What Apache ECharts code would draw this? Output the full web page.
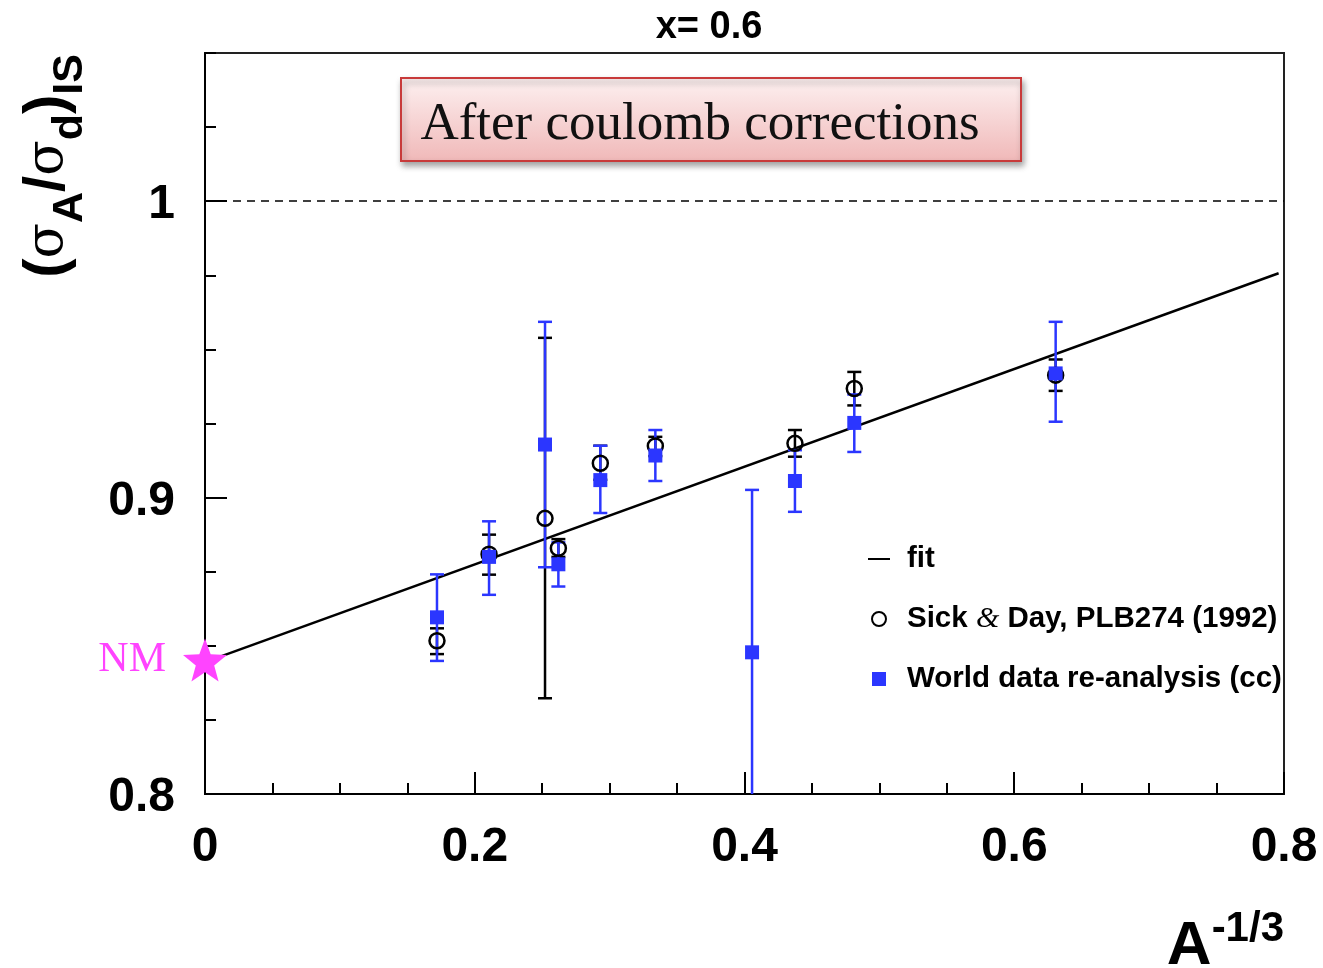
<!DOCTYPE html>
<html>
<head>
<meta charset="utf-8">
<script src="https://cdn.jsdelivr.net/npm/echarts@6/dist/echarts.min.js"></script>
<style>html,body{margin:0;padding:0;background:#fff;}#c{width:1323px;height:968px;}</style>
</head>
<body>
<div id="c"></div>
<script>
// ---- data ----
const xTickLabels = ['0', '0.2', '0.4', '0.6', '0.8'];
const yTickLabels = ['0.8', '0.9', '1'];

// World data re-analysis (cc) : A^-1/3, ratio, lower, upper
const worldX    = [0.172, 0.2106, 0.2521, 0.262, 0.2931, 0.3339, 0.4056, 0.4374, 0.4814, 0.6307];
const worldY    = [0.8596, 0.8800, 0.9179, 0.8775, 0.9059, 0.9142, 0.8478, 0.9056, 0.9252, 0.9419];
const worldLow  = [0.8449, 0.8672, 0.8765, 0.8700, 0.8948, 0.9056, 0.7900, 0.8952, 0.9154, 0.9256];
const worldHigh = [0.8741, 0.8920, 0.9593, 0.8849, 0.9175, 0.9228, 0.9026, 0.9160, 0.9348, 0.9593];

// Sick & Day, PLB274 (1992)
const sickX    = [0.172, 0.2106, 0.2521, 0.262, 0.2931, 0.3339, 0.4374, 0.4814, 0.6307];
const sickY    = [0.8517, 0.8809, 0.8930, 0.8829, 0.9116, 0.9174, 0.9183, 0.9368, 0.9413];
const sickLow  = [0.8472, 0.8740, 0.8323, 0.8800, 0.9060, 0.9140, 0.9138, 0.9311, 0.9360];
const sickHigh = [0.8559, 0.8875, 0.9539, 0.8860, 0.9175, 0.9205, 0.9228, 0.9424, 0.9466];

// linear fit
const fitX = [0, 0.796];
const fitY = [0.8445, 0.9757];

// nuclear matter extrapolation
const nmX = [0];
const nmY = [0.8445];

const refLine = 1.0;

// ---- chart ----
const BLUE = '#2b36ff';
const MAGENTA = '#ff44ff';
const chart = echarts.init(document.getElementById('c'));

function errSeries(name, xs, lo, hi, color) {
  return {
    name: name + '_err', type: 'custom', xAxisIndex: 0, yAxisIndex: 0, clip: true,
    data: xs.map((x, i) => [x, lo[i], hi[i]]),
    renderItem: function (params, api) {
      const x = api.value(0);
      const p1 = api.coord([x, api.value(2)]);
      const p2 = api.coord([x, api.value(1)]);
      const w = 7;
      const st = { stroke: color, lineWidth: 2.5 };
      return {
        type: 'group',
        children: [
          { type: 'line', shape: { x1: p1[0], y1: p1[1], x2: p2[0], y2: p2[1] }, style: st },
          { type: 'line', shape: { x1: p1[0] - w, y1: p1[1], x2: p1[0] + w, y2: p1[1] }, style: st },
          { type: 'line', shape: { x1: p2[0] - w, y1: p2[1], x2: p2[0] + w, y2: p2[1] }, style: st }
        ]
      };
    },
    z: 3
  };
}

const starPath = 'path://M50,0 L62.3,33 L97.6,34.5 L69.9,56.4 L79.4,90.5 L50,71 L20.6,90.5 L30.1,56.4 L2.4,34.5 L37.7,33 Z';
const gridBox = { left: 205, right: 39, top: 53, bottom: 174 };

const option = {
  backgroundColor: '#ffffff',
  animation: false,
  title: {
    text: 'x= 0.6', left: 704, top: 4, textAlign: 'center',
    textStyle: { fontFamily: 'Liberation Sans', fontWeight: 'bold', fontSize: 38, color: '#000' }
  },
  grid: [
    Object.assign({ show: true, borderColor: '#222', borderWidth: 2, backgroundColor: 'transparent' }, gridBox),
    Object.assign({ show: false }, gridBox)
  ],
  legend: {
    orient: 'vertical', left: 868, top: 544, itemWidth: 22, itemHeight: 14, itemGap: 30,
    padding: 0,
    data: [
      { name: 'fit', icon: 'path://M0,0 L22,0 L22,2 L0,2 Z', itemStyle: { color: '#000' } },
      { name: 'Sick & Day, PLB274 (1992)' },
      { name: 'World data re-analysis (cc)', icon: 'path://M0,0 L10,0 L10,10 L0,10 Z' }
    ],
    formatter: function (n) {
      if (n.indexOf('Sick') === 0) return 'Sick {amp|&} Day, PLB274 (1992)';
      return n;
    },
    textStyle: {
      fontFamily: 'Liberation Sans', fontWeight: 'bold', fontSize: 29.5, color: '#000',
      lineHeight: 30, padding: [0, 0, 0, 12],
      rich: { amp: { fontFamily: 'Liberation Serif', fontStyle: 'italic', fontWeight: 'normal', fontSize: 30, color: '#000' } }
    }
  },
  xAxis: [
    {
      type: 'value', gridIndex: 0, min: 0, max: 0.8, interval: 0.2,
      axisLine: { show: true, onZero: false, lineStyle: { color: '#000', width: 2 } },
      axisTick: { show: true, inside: true, length: 22, lineStyle: { color: '#000', width: 2 } },
      minorTick: { show: true, splitNumber: 4, length: 11, lineStyle: { color: '#000', width: 2 } },
      splitLine: { show: false },
      axisLabel: {
        margin: 30, color: '#000', fontFamily: 'Liberation Sans', fontWeight: 'bold', fontSize: 48,
        formatter: function (v) { return xTickLabels[Math.round(v / 0.2)]; }
      }
    },
    { type: 'value', gridIndex: 1, min: 0, max: 0.8, show: false }
  ],
  yAxis: [
    {
      type: 'value', gridIndex: 0, min: 0.8, max: 1.05, interval: 0.1,
      axisLine: { show: true, onZero: false, lineStyle: { color: '#000', width: 2 } },
      axisTick: { show: true, inside: true, length: 22, lineStyle: { color: '#000', width: 2 } },
      splitLine: { show: false },
      axisLabel: {
        margin: 30, color: '#000', fontFamily: 'Liberation Sans', fontWeight: 'bold', fontSize: 48,
        showMaxLabel: false,
        rich: { v: { fontFamily: 'Liberation Sans', fontWeight: 'bold', fontSize: 48, color: '#000', padding: [8, 0, 0, 0] } },
        formatter: function (v) {
          const k = Math.round((v - 0.8) / 0.1);
          return (Math.abs(v - (0.8 + k * 0.1)) < 1e-6 && k < yTickLabels.length) ? '{v|' + yTickLabels[k] + '}' : '';
        }
      }
    },
    {
      type: 'value', gridIndex: 1, min: 0.8, max: 1.05, interval: 0.025,
      axisLine: { show: false },
      axisTick: { show: true, inside: true, length: 11, lineStyle: { color: '#000', width: 2 } },
      splitLine: { show: false },
      axisLabel: { show: false }
    }
  ],
  series: [
    {
      name: 'fit', type: 'line', xAxisIndex: 0, yAxisIndex: 0,
      data: fitX.map((x, i) => [x, fitY[i]]),
      symbol: 'none', showSymbol: false, lineStyle: { color: '#000', width: 2.5 }, itemStyle: { color: '#000' },
      z: 2,
      markLine: {
        silent: true, symbol: 'none', label: { show: false },
        lineStyle: { color: '#000', width: 1.5, type: [8, 6] },
        data: [{ yAxis: refLine }]
      }
    },
    errSeries('Sick & Day, PLB274 (1992)', sickX, sickLow, sickHigh, '#000'),
    {
      name: 'Sick & Day, PLB274 (1992)', type: 'scatter', xAxisIndex: 0, yAxisIndex: 0,
      data: sickX.map((x, i) => [x, sickY[i]]),
      symbol: 'circle', symbolSize: 15,
      itemStyle: { color: 'rgba(255,255,255,0)', borderColor: '#000', borderWidth: 2.5, opacity: 1 },
      z: 4
    },
    errSeries('World data re-analysis (cc)', worldX, worldLow, worldHigh, BLUE),
    {
      name: 'World data re-analysis (cc)', type: 'scatter', xAxisIndex: 0, yAxisIndex: 0,
      data: worldX.map((x, i) => [x, worldY[i]]),
      symbol: 'rect', symbolSize: 14,
      itemStyle: { color: BLUE, opacity: 1 },
      z: 6
    },
    {
      name: 'NM', type: 'scatter', xAxisIndex: 0, yAxisIndex: 0, clip: false,
      data: nmX.map((x, i) => [x, nmY[i]]),
      symbol: starPath, symbolSize: [44, 43], symbolOffset: [0, -2],
      itemStyle: { color: MAGENTA, opacity: 1 },
      label: {
        show: true, position: 'left', distance: 17, formatter: 'NM',
        fontFamily: 'Liberation Serif', fontSize: 42, color: MAGENTA
      },
      z: 7
    }
  ],
  graphic: [
    {
      type: 'rect', left: 400, top: 77, z: 10,
      shape: { width: 620, height: 83 },
      style: {
        fill: new echarts.graphic.LinearGradient(0, 0, 0, 1, [
          { offset: 0, color: '#fdf1f1' }, { offset: 1, color: '#f0b8b8' }
        ]),
        stroke: '#c83a3a', lineWidth: 2,
        shadowBlur: 6, shadowOffsetX: 2, shadowOffsetY: 4, shadowColor: 'rgba(0,0,0,0.35)'
      }
    },
    {
      type: 'text', x: 700, y: 125, z: 11,
      style: {
        text: 'After coulomb corrections', fill: '#111',
        font: '53px "Liberation Serif"', align: 'center', verticalAlign: 'middle'
      }
    },
    {
      type: 'text', x: 48, y: 166, rotation: Math.PI / 2, z: 11,
      style: {
        text: '{m|(}{g|σ}{s|A}{m|/}{g|σ}{s|d}{m|)}{s|IS}',
        align: 'center', verticalAlign: 'middle', fill: '#000',
        rich: {
          m: { fontFamily: 'Liberation Sans', fontWeight: 'bold', fontSize: 58, lineHeight: 88, verticalAlign: 'middle', fill: '#000' },
          g: { fontFamily: 'DejaVu Serif', fontWeight: 'normal', fontSize: 52, lineHeight: 88, verticalAlign: 'middle', fill: '#000' },
          s: { fontFamily: 'Liberation Sans', fontWeight: 'bold', fontSize: 43, lineHeight: 43, verticalAlign: 'bottom', fill: '#000' }
        }
      }
    },
    {
      type: 'text', x: 1284, y: 943, z: 11,
      style: {
        text: '{a|A}{p|-1/3}',
        align: 'right', verticalAlign: 'middle', fill: '#000',
        rich: {
          a: { fontFamily: 'Liberation Sans', fontWeight: 'bold', fontSize: 62, lineHeight: 70, verticalAlign: 'bottom', fill: '#000' },
          p: { fontFamily: 'Liberation Sans', fontWeight: 'bold', fontSize: 42, lineHeight: 42, verticalAlign: 'top', fill: '#000' }
        }
      }
    }
  ]
};
chart.setOption(option);
</script>
</body>
</html>
